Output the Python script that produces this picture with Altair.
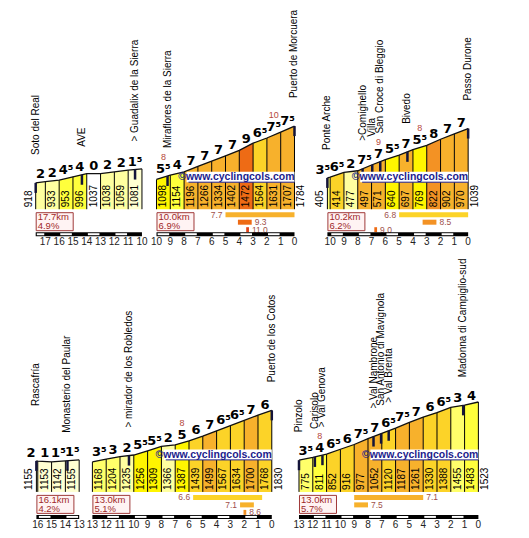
import math
import altair as alt
import pandas as pd
import numpy as np

# ---------------- data ----------------
# Panel 1 : Soto del Real -> km 10
p1_km = [17.7, 17, 16, 15, 14, 13, 12, 11, 10]
p1_elev = [918, 933, 953, 996, 1037, 1038, 1059, 1081, 1098]
p1_grad = [2, 2, 4.5, 4, 0, 2, 2, 1.5]
p1_maxg = {}
p1_place = ["Soto del Real", "AVE", "> Guadalix de la Sierra"]
p1_place_km = [17.7, 14.35, 10.5]
p1_total = ["17.7km", "4.9%"]
p1_steep_from, p1_steep_to, p1_steep_val = [], [], []

# Panel 2 : -> Puerto de Morcuera
p2_km = [10, 9, 8, 7, 6, 5, 4, 3, 2, 1, 0]
p2_elev = [1098, 1154, 1196, 1266, 1334, 1402, 1472, 1564, 1631, 1707, 1784]
p2_grad = [5.5, 4, 7, 7, 7, 7, 9, 6.5, 7.5, 7.5]
p2_maxg = {0: 8, 8: 10}
p2_place = ["Miraflores de la Sierra", "Puerto de Morcuera"]
p2_place_km = [9.2, 0]
p2_total = ["10.0km", "6.9%"]
p2_steep_from, p2_steep_to, p2_steep_val = [5.0, 4.1, 3.5], [0.0, 3.1, 3.3], [7.7, 9.3, 11.0]

# Panel 3 : Ponte Arche -> Passo Durone
p3_km = [10.2, 10, 9, 8, 7, 6, 5, 4, 3, 2, 1, 0]
p3_elev = [405, 414, 477, 497, 571, 640, 697, 769, 822, 902, 970, 1039]
p3_grad = [3.5, 6.5, 2, 7.5, 7, 5.5, 7, 5.5, 8, 7, 7]
p3_maxg = {4: 9, 7: 8}
p3_place = ["Ponte Arche", ">Comighello", "Villa", "San Croce di Bleggio", "Bivedo", "Passo Durone"]
p3_place_km = [10.2, 7.65, 6.95, 6.37, 4.4, 0]
p3_total = ["10.2km", "6.2%"]
p3_steep_from, p3_steep_to, p3_steep_val = [5.0, 3.3, 6.8], [0.0, 2.3, 6.6], [6.8, 8.5, 9.0]

# Panel 4 : Rascafría -> km 13
p4_km = [16.1, 16, 15, 14, 13]
p4_elev = [1155, 1153, 1142, 1155, 1168]
p4_grad = [2, 1, 1.5, 1.5]
p4_maxg = {}
p4_place = ["Rascafría", "Monasterio del Paular"]
p4_place_km = [16.1, 13.85]
p4_total = ["16.1km", "4.2%"]
p4_steep_from, p4_steep_to, p4_steep_val = [], [], []

# Panel 5 : -> Puerto de los Cotos
p5_km = [13, 12, 11, 10, 9, 8, 7, 6, 5, 4, 3, 2, 1, 0]
p5_elev = [1168, 1204, 1235, 1256, 1309, 1366, 1387, 1439, 1499, 1567, 1634, 1700, 1768, 1830]
p5_grad = [3.5, 3, 2, 5.5, 5.5, 2, 5, 6, 7, 6.5, 6.5, 7, 6]
p5_maxg = {6: 8}
p5_place = ["> mirador de los Robledos", "Puerto de los Cotos"]
p5_place_km = [10.35, 0]
p5_total = ["13.0km", "5.1%"]
p5_steep_from, p5_steep_to, p5_steep_val = [5.7, 2.3, 2.05], [0.7, 1.3, 1.85], [6.6, 7.1, 8.6]

# Panel 6 : Pinzolo -> Madonna di Campiglio
p6_km = [13, 12, 11, 10, 9, 8, 7, 6, 5, 4, 3, 2, 1, 0]
p6_elev = [775, 811, 852, 916, 977, 1052, 1120, 1187, 1261, 1330, 1388, 1455, 1483, 1523]
p6_grad = [3.5, 4, 6.5, 6, 7.5, 7, 6.5, 7.5, 7, 6, 6.5, 3, 4]
p6_maxg = {1: 8}
p6_place = ["Pinzolo", "Carisolo", "> Val Genova", "> Val Nambrone",
            "San Antonio di Mavignola", "> Val Brenta", "Madonna di Campiglio-sud"]
p6_place_km = [13, 11.85, 11.3, 7.6, 7.05, 6.5, 1.1]
p6_total = ["13.0km", "5.7%"]
p6_steep_from, p6_steep_to, p6_steep_val = [9.0, 9.0], [4.0, 8.0], [7.1, 7.5]

# ---------------- styling / layout ----------------
MPP = 12.85   # metres per pixel
PXKM = 13.8   # pixels per km
H = 92        # height of each panel's plot area
W = 56        # width of every grid cell (profiles may run past it)
FONT = "Liberation Sans"
BOLD = "DejaVu Sans"
NAME_LIFT = {"Rascafría": 55}


def gcolor(g):
    if g < 0.5:
        return "#ffffff"
    if g < 2:
        return "#ffffd2"
    if g < 3:
        return "#ffffa0"
    if g < 4:
        return "#ffff6a"
    if g < 5:
        return "#ffff3c"
    if g < 6:
        return "#fff500"
    if g < 7:
        return "#fcd328"
    if g < 8:
        return "#f7b12c"
    if g < 9:
        return "#f39224"
    if g < 10:
        return "#ee6b15"
    return "#e0441a"


def fmt_grad(g):
    whole = int(math.floor(g + 1e-9))
    return f"{whole}\u2075" if abs(g - whole - 0.5) < 1e-6 else f"{whole}"


def one():
    return pd.DataFrame({"d": [0]})


def panel(km, elev, grad, base, total, places, places_km, maxg,
          s_from, s_to, s_val, end_label, watermark, lead, wm_up):
    n = len(km) - 1
    start, end = km[0], km[-1]
    span = (start - end) * PXKM
    d0 = start + lead / PXKM
    xsc = alt.Scale(domain=[d0, d0 - W / PXKM], nice=False, zero=False)
    ysc = alt.Scale(domain=[base, base + H * MPP], nice=False, zero=False)

    def X(f):
        return alt.X(f, type="quantitative", scale=xsc, axis=None)

    def Y(f):
        return alt.Y(f, type="quantitative", scale=ysc, axis=None)

    layers = []

    # coloured km segments
    rows = []
    for i in range(n):
        for j in (i, i + 1):
            rows.append({"seg": i, "km": km[j], "elev": elev[j], "base": base, "col": gcolor(grad[i])})
    adf = pd.DataFrame(rows)
    layers.append(alt.Chart(adf).mark_area(opacity=1, strokeWidth=0).encode(
        x=X("km"), y=Y("elev"), y2=alt.Y2("base"), detail="seg:N",
        color=alt.Color("col:N", scale=None)))

    bdf = pd.DataFrame({"km": km, "elev": elev, "base": [base] * len(km), "idx": list(range(len(km)))})
    layers.append(alt.Chart(bdf).mark_rule(color="#000000", strokeWidth=1).encode(
        x=X("km"), y=Y("elev"), y2=alt.Y2("base")))
    layers.append(alt.Chart(bdf).mark_line(color="#111111", strokeWidth=1.3).encode(
        x=X("km"), y=Y("elev"), order="idx:Q"))

    # place markers
    pe = [float(np.interp(k, km[::-1], elev[::-1])) for k in places_km]
    pdf = pd.DataFrame({"name": places, "km": places_km, "e": pe,
                        "elow": [e - 10 * MPP for e in pe]})
    layers.append(alt.Chart(pdf).mark_rule(color="#14143a", strokeWidth=2.5).encode(
        x=X("km"), y=Y("e"), y2=alt.Y2("elow")))

    # watermark band
    if watermark:
        c = H - wm_up
        r = lead + span
        layers.append(alt.Chart(one()).mark_rect(color="#ffffff").encode(
            x=alt.value(r - 108), x2=alt.value(r), y=alt.value(c - 5.5), y2=alt.value(c + 5)))
        layers.append(alt.Chart(one()).mark_rule(color="#1c1c8c", strokeWidth=1).encode(
            x=alt.value(r - 106), x2=alt.value(r), y=alt.value(c + 5)))
        layers.append(alt.Chart(one()).mark_text(
            text="\u00a9www.cyclingcols.com", font=FONT, fontSize=10.5, fontWeight="bold",
            color="#1c1c8c", align="right", baseline="middle").encode(
            x=alt.value(r), y=alt.value(c)))

    # segment data
    sdf = pd.DataFrame({
        "mid": [(km[i] + km[i + 1]) / 2 for i in range(n)],
        "w": [km[i] - km[i + 1] for i in range(n)],
        "emid": [(elev[i] + elev[i + 1]) / 2 for i in range(n)],
        "g": [fmt_grad(grad[i]) for i in range(n)],
        "lab": [str(elev[i]) for i in range(n)],
        "mx": [str(maxg.get(i, "")) for i in range(n)],
    })
    sdf["xlab"] = sdf["mid"] + np.where(sdf["w"] < 0.5, 6 / PXKM, 0.0)

    inside = sdf[sdf["w"] >= 0.9]
    layers.append(alt.Chart(inside).mark_text(
        font=FONT, fontSize=10, angle=270, align="left", baseline="middle", dx=2, color="#000000").encode(
        x=X("mid"), y=alt.value(H), text="lab:N"))

    if km[0] - km[1] < 0.9:
        layers.append(alt.Chart(pd.DataFrame({"km": [start], "lab": [str(elev[0])]})).mark_text(
            font=FONT, fontSize=10, angle=270, align="left", baseline="middle", dx=2, dy=-7,
            color="#000000").encode(x=X("km"), y=alt.value(H), text="lab:N"))
    if end_label:
        layers.append(alt.Chart(pd.DataFrame({"km": [end], "lab": [str(elev[-1])]})).mark_text(
            font=FONT, fontSize=10, angle=270, align="left", baseline="middle", dx=2, dy=7,
            color="#000000").encode(x=X("km"), y=alt.value(H), text="lab:N"))

    # gradient labels
    layers.append(alt.Chart(sdf).mark_text(
        font=BOLD, fontSize=13, fontWeight="bold", align="center", baseline="alphabetic", dy=-4,
        color="#000000").encode(x=X("xlab"), y=Y("emid"), text="g:N"))
    mdf = sdf[sdf["mx"] != ""]
    if len(mdf):
        layers.append(alt.Chart(mdf).mark_text(
            font=FONT, fontSize=9, align="center", baseline="alphabetic", dy=-17,
            color="#b5473a").encode(x=X("xlab"), y=Y("emid"), text="mx:N"))

    # place names
    for nm, k, e in zip(places, places_km, pe):
        layers.append(alt.Chart(pd.DataFrame({"km": [k], "e": [e], "name": [nm]})).mark_text(
            font=FONT, fontSize=10, angle=270, align="left", baseline="middle",
            dx=NAME_LIFT.get(nm, 28), color="#000000").encode(x=X("km"), y=Y("e"), text="name:N"))

    # total box
    layers.append(alt.Chart(one()).mark_rect(fill="#fff3f3", stroke="#a03838", strokeWidth=1).encode(
        x=alt.value(lead + 0.5), x2=alt.value(lead + 37.5), y=alt.value(H + 3.5), y2=alt.value(H + 21.5)))
    for li, t in enumerate(total):
        layers.append(alt.Chart(one()).mark_text(
            text=t, font=FONT, fontSize=9.5, align="left", baseline="middle", color="#a02828").encode(
            x=alt.value(lead + 2), y=alt.value(H + 8 + 8.8 * li)))

    # steepest sections
    for r, (a, b, v) in enumerate(zip(s_from, s_to, s_val)):
        yy = H + 3 + 7.5 * r
        sd = pd.DataFrame({"a": [a], "b": [b], "lab": [f"{v:.1f}"]})
        layers.append(alt.Chart(sd).mark_rect(color=gcolor(v)).encode(
            x=X("a"), x2=alt.X2("b"), y=alt.value(yy), y2=alt.value(yy + 5)))
        if b >= 1.5:
            layers.append(alt.Chart(sd).mark_text(
                font=FONT, fontSize=8.5, align="left", baseline="middle", dx=3, color="#a0504a").encode(
                x=X("b"), y=alt.value(yy + 2.5), text="lab:N"))
        else:
            layers.append(alt.Chart(sd).mark_text(
                font=FONT, fontSize=8.5, align="right", baseline="middle", dx=-3, color="#a0504a").encode(
                x=X("a"), y=alt.value(yy + 2.5), text="lab:N"))

    # km scale bar
    layers.append(alt.Chart(pd.DataFrame({"a": [start], "b": [end]})).mark_rect(color="#000000").encode(
        x=X("a"), x2=alt.X2("b"), y=alt.value(H + 23), y2=alt.value(H + 27)))
    wa, wb = [], []
    for upper in range(int(math.ceil(start - 1e-9)), int(end), -1):
        if upper % 2 == 0:
            wa.append(min(upper, start) - 0.08)
            wb.append(upper - 1 + 0.08)
    if wa:
        layers.append(alt.Chart(pd.DataFrame({"a": wa, "b": wb})).mark_rect(color="#ffffff").encode(
            x=X("a"), x2=alt.X2("b"), y=alt.value(H + 24), y2=alt.value(H + 26)))
    ticks = list(range(int(math.floor(start)), int(end) - 1, -1))
    layers.append(alt.Chart(pd.DataFrame({"km": ticks, "t": [str(t) for t in ticks]})).mark_text(
        font=FONT, fontSize=10, align="center", baseline="middle", color="#222222").encode(
        x=X("km"), y=alt.value(H + 33), text="t:N"))

    return alt.layer(*layers).properties(width=W, height=H)


# cells start at page x 35, 91, 147; "lead" is where each profile begins inside its cell
c1 = panel(p1_km, p1_elev, p1_grad, 580, p1_total, p1_place, p1_place_km, p1_maxg,
           p1_steep_from, p1_steep_to, p1_steep_val, False, False, 0.0, 32)
c2 = panel(p2_km, p2_elev, p2_grad, 716, p2_total, p2_place, p2_place_km, p2_maxg,
           p2_steep_from, p2_steep_to, p2_steep_val, True, True, 64.8, 32)
c3 = panel(p3_km, p3_elev, p3_grad, 3, p3_total, p3_place, p3_place_km, p3_maxg,
           p3_steep_from, p3_steep_to, p3_steep_val, True, True, 179.7, 32)
c4 = panel(p4_km, p4_elev, p4_grad, 757, p4_total, p4_place, p4_place_km, p4_maxg,
           p4_steep_from, p4_steep_to, p4_steep_val, False, False, 0.7, 37)
c5 = panel(p5_km, p5_elev, p5_grad, 782, p5_total, p5_place, p5_place_km, p5_maxg,
           p5_steep_from, p5_steep_to, p5_steep_val, True, True, 0.7, 37)
c6 = panel(p6_km, p6_elev, p6_grad, 368, p6_total, p6_place, p6_place_km, p6_maxg,
           p6_steep_from, p6_steep_to, p6_steep_val, True, True, 151.3, 37)

chart = alt.concat(
    c1, c2, c3, c4, c5, c6, columns=3,
    spacing={"row": 190.7, "column": 0}, bounds="flush", align="all"
).properties(
    padding={"left": 15.7, "top": 1.2, "right": 5, "bottom": 5}, background="white"
).configure_view(stroke=None)

chart.save("out.html", embed_options={"renderer": "svg", "actions": False})
